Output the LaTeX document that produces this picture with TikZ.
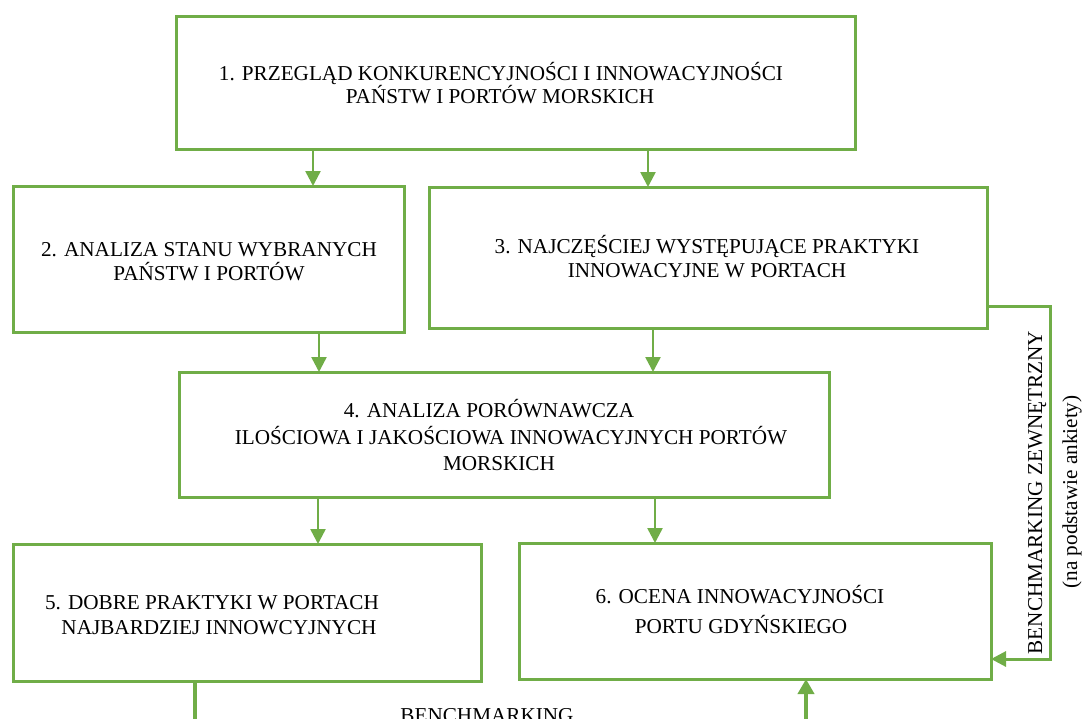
\documentclass[tikz,border=0pt]{standalone}
\usepackage{fontspec}
\setmainfont{Liberation Serif}
\usetikzlibrary{arrows.meta}
\definecolor{leaf}{RGB}{112,173,71}
\tikzset{
  box/.style={draw=leaf, line width=3pt, rectangle, inner sep=0pt, outer sep=0pt},
  txt/.style={font=\fontsize{21.2}{25}\selectfont, anchor=base, inner sep=0pt, text=black},
  flow/.style={draw=leaf, line width=2.5pt, -{Triangle[width=15pt,length=15pt]}},
  feed/.style={draw=leaf, line width=3pt, -{Triangle[width=15pt,length=15pt]}},
  rail/.style={draw=leaf, line width=4.5pt},
  railtip/.style={draw=leaf, line width=4.5pt, -{Triangle[width=16pt,length=15pt]}}
}
\begin{document}
\begin{tikzpicture}[x=1pt,y=-1pt]
\useasboundingbox (0,0) rectangle (1085,718);

% boxes
\node[box, minimum width=679pt, minimum height=133pt] (b1) at (515.5,82.5) {};
\node[box, minimum width=391pt, minimum height=146pt] (b2) at (208.5,259) {};
\node[box, minimum width=558pt, minimum height=141pt] (b3) at (708,257.5) {};
\node[box, minimum width=650pt, minimum height=125pt] (b4) at (504,434.5) {};
\node[box, minimum width=468pt, minimum height=137pt] (b5) at (247,612.5) {};
\node[box, minimum width=472pt, minimum height=136pt] (b6) at (755,611) {};

% box texts
\node[txt] (t1a) at (501,80) {1. PRZEGLĄD KONKURENCYJNOŚCI I INNOWACYJNOŚCI};
\node[txt] (t1b) at (500,103) {PAŃSTW I PORTÓW MORSKICH};
\node[txt] (t2a) at (209,256) {2. ANALIZA STANU WYBRANYCH};
\node[txt] (t2b) at (209,280) {PAŃSTW I PORTÓW};
\node[txt] (t3a) at (707,253) {3. NAJCZĘŚCIEJ WYSTĘPUJĄCE PRAKTYKI};
\node[txt] (t3b) at (707,277) {INNOWACYJNE W PORTACH};
\node[txt] (t4a) at (489,417) {4. ANALIZA PORÓWNAWCZA};
\node[txt] (t4b) at (511,444) {ILOŚCIOWA I JAKOŚCIOWA INNOWACYJNYCH PORTÓW};
\node[txt] (t4c) at (499,470) {MORSKICH};
\node[txt] (t5a) at (212,609) {5. DOBRE PRAKTYKI W PORTACH};
\node[txt] (t5b) at (219,634) {NAJBARDZIEJ INNOWCYJNYCH};
\node[txt] (t6a) at (740,603) {6. OCENA INNOWACYJNOŚCI};
\node[txt] (t6b) at (741,633) {PORTU GDYŃSKIEGO};

% columns of the downward arrows
\coordinate (c12) at (313,0);
\coordinate (c13) at (648,0);
\coordinate (c24) at (319,0);
\coordinate (c34) at (653,0);
\coordinate (c45) at (318,0);
\coordinate (c46) at (655,0);

\draw[flow] (c12 |- b1.south) -- (c12 |- b2.north);
\draw[flow] (c13 |- b1.south) -- (c13 |- b3.north);
\draw[flow] (c24 |- b2.south) -- (c24 |- b4.north);
\draw[flow] (c34 |- b3.south) -- (c34 |- b4.north);
\draw[flow] (c45 |- b4.south) -- (c45 |- b5.north);
\draw[flow] (c46 |- b4.south) -- (c46 |- b6.north);

% external benchmarking loop on the right
\coordinate (r1) at (1050,306);
\coordinate (r2) at (1050,659);
\draw[feed] (r1 -| b3.east) -- (r1) -- (r2) -- (r2 -| b6.east);
\node[txt, rotate=90] (bz) at (1042,492.5) {BENCHMARKING ZEWNĘTRZNY};
\node[txt, rotate=90] (bp) at (1077,492) {(na podstawie ankiety)};

% internal benchmarking loop below
\coordinate (l1) at (195,740);
\coordinate (l2) at (806,740);
\draw[rail] (l1 |- b5.south) -- (l1);
\draw[railtip] (l2) -- (l2 |- b6.south);
\node[txt] (bm) at (487,722) {BENCHMARKING};
\end{tikzpicture}
\end{document}
